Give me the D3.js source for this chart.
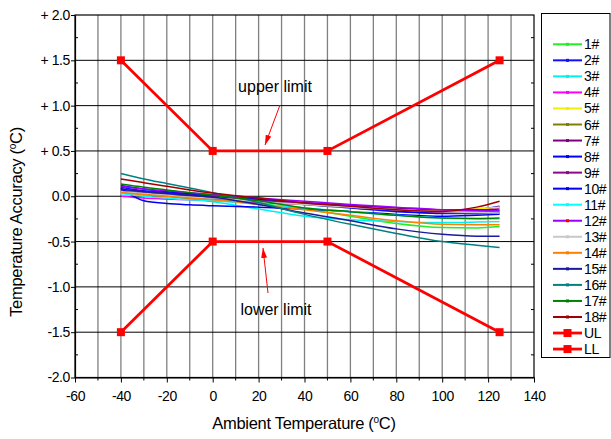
<!DOCTYPE html>
<html><head><meta charset="utf-8">
<script src="https://cdn.jsdelivr.net/npm/d3@7"></script>
<style>
body{margin:0;background:#fff;}
svg{display:block;font-family:"Liberation Sans",Arial,sans-serif;}
</style></head>
<body><svg id="c" width="611" height="439"></svg>
<script>
// ---------- data ----------
const temps = [-40, -30, -20, -10, 0, 20, 40, 60, 80, 100, 115, 125];
const seriesNames = ["1#","2#","3#","4#","5#","6#","7#","8#","9#","10#","11#","12#","13#","14#","15#","16#","17#","18#"];
const seriesColors = ["#22ee22","#1010ff","#00f0f0","#ff00ff","#f0f000","#808000","#800080","#0000ff","#8b0a8b","#0000ee","#00ffff","#9b00ff","#c8c8c8","#ff8000","#1a1aa0","#008080","#008000","#a00000"];
const s1  = [0.06, 0.03, 0.01, -0.01, -0.03, -0.08, -0.14, -0.22, -0.30, -0.345, -0.35, -0.335];
const s2  = [0.10, 0.06, 0.04, 0.02, 0.00, -0.04, -0.09, -0.13, -0.17, -0.185, -0.15, -0.11];
const s3  = [0.07, 0.03, 0.00, -0.03, -0.06, -0.14, -0.22, -0.26, -0.28, -0.29, -0.285, -0.28];
const s4  = [0.00, -0.02, -0.03, -0.04, -0.05, -0.07, -0.09, -0.11, -0.13, -0.15, -0.14, -0.12];
const s5  = [0.04, 0.02, 0.00, -0.01, -0.02, -0.05, -0.08, -0.11, -0.14, -0.165, -0.14, -0.12];
const s6  = [0.05, 0.02, 0.00, -0.02, -0.03, -0.06, -0.09, -0.12, -0.15, -0.17, -0.17, -0.16];
const s7  = [0.08, 0.05, 0.03, 0.01, 0.00, -0.04, -0.07, -0.10, -0.13, -0.15, -0.15, -0.14];
const s8  = [0.12, 0.08, 0.05, 0.03, 0.01, -0.03, -0.08, -0.12, -0.16, -0.19, -0.19, -0.18];
const s9  = [0.06, 0.03, 0.01, -0.01, -0.02, -0.05, -0.08, -0.12, -0.15, -0.18, -0.19, -0.19];
const s10 = [0.09, -0.05, -0.08, -0.095, -0.105, -0.12, -0.14, -0.17, -0.20, -0.22, -0.21, -0.20];
const s11 = [0.03, 0.00, -0.02, -0.04, -0.05, -0.09, -0.13, -0.17, -0.21, -0.24, -0.25, -0.25];
const s12 = [0.11, 0.08, 0.06, 0.04, 0.02, -0.02, -0.055, -0.09, -0.12, -0.15, -0.16, -0.16];
const s13 = [0.05, 0.03, 0.01, -0.01, -0.02, -0.06, -0.09, -0.12, -0.15, -0.17, -0.18, -0.185];
const s14 = [0.04, 0.02, 0.00, -0.02, -0.04, -0.09, -0.15, -0.21, -0.27, -0.31, -0.315, -0.315];
const s15 = [0.08, 0.05, 0.03, 0.01, -0.01, -0.09, -0.185, -0.27, -0.36, -0.42, -0.44, -0.44];
const s16 = [0.25, 0.19, 0.14, 0.09, 0.04, -0.07, -0.20, -0.31, -0.41, -0.50, -0.54, -0.565];
const s17 = [0.135, 0.10, 0.07, 0.04, 0.01, -0.05, -0.13, -0.17, -0.21, -0.24, -0.245, -0.24];
const s18 = [0.19, 0.15, 0.11, 0.07, 0.035, -0.02, -0.075, -0.11, -0.15, -0.167, -0.12, -0.055];
const seriesValues = [s1,s2,s3,s4,s5,s6,s7,s8,s9,s10,s11,s12,s13,s14,s15,s16,s17,s18];

const limitTemps = [-40, 0, 50, 125];
const ulValues = [1.5, 0.5, 0.5, 1.5];
const llValues = [-1.5, -0.5, -0.5, -1.5];

const xTicks = [-60,-40,-20,0,20,40,60,80,100,120,140];
const xTickLabels = ["-60","-40","-20","0","20","40","60","80","100","120","140"];
const xMinor = [-50,-30,-10,10,30,50,70,90,110,130];
const yTicks = [-2,-1.5,-1,-0.5,0,0.5,1,1.5,2];
const yTickLabels = ["-2.0","-1.5","-1.0","-0.5","0.0","+ 0.5","+ 1.0","+ 1.5","+ 2.0"];
const yMinor = [-1.75,-1.25,-0.75,-0.25,0.25,0.75,1.25,1.75];

// ---------- drawing ----------
const svg = d3.select("#c");
const x = d3.scaleLinear().domain([-60,140]).range([75,534]);
const y = d3.scaleLinear().domain([-2,2]).range([377.5,15]);

// vertical grid
svg.append("g").selectAll("line").data(xTicks.concat(xMinor).filter(v=>v>-60&&v<140)).join("line")
  .attr("x1",d=>x(d)).attr("x2",d=>x(d)).attr("y1",y(2)).attr("y2",y(-2))
  .attr("stroke","#808080").attr("stroke-width",1.3);
// horizontal grid
svg.append("g").selectAll("line").data(yTicks.filter(v=>v>-2&&v<2)).join("line")
  .attr("x1",x(-60)).attr("x2",x(140)).attr("y1",d=>y(d)).attr("y2",d=>y(d))
  .attr("stroke","#000").attr("stroke-width",1);

// axes
const gx = svg.append("g").attr("transform",`translate(0,${y(-2)})`)
  .call(d3.axisBottom(x).tickValues(xTicks).tickSize(5).tickSizeOuter(0).tickPadding(8).tickFormat((d,i)=>xTickLabels[i]));
gx.append("g").selectAll("line").data(xMinor).join("line")
  .attr("x1",d=>x(d)).attr("x2",d=>x(d)).attr("y1",0).attr("y2",3).attr("stroke","#000");
const gy = svg.append("g").attr("transform",`translate(${x(-60)},0)`)
  .call(d3.axisLeft(y).tickValues(yTicks).tickSize(4).tickSizeOuter(0).tickPadding(3)
    .tickFormat((d,i)=>yTickLabels[i]));
gy.append("g").selectAll("line").data(yMinor).join("line")
  .attr("x1",0).attr("x2",3).attr("y1",d=>y(d)).attr("y2",d=>y(d)).attr("stroke","#000");
// right frame minor ticks
svg.append("g").selectAll("line").data(yMinor).join("line")
  .attr("x1",x(140)).attr("x2",x(140)-3).attr("y1",d=>y(d)).attr("y2",d=>y(d)).attr("stroke","#000");
[gx,gy].forEach(g=>{
  g.selectAll("text").attr("font-family","Liberation Sans, Arial").attr("font-size",14).attr("fill","#000").attr("letter-spacing","-0.4");
  g.selectAll(".domain").attr("stroke","#000").attr("stroke-width",1.2);
});
gy.selectAll(".tick text").attr("x",-5);
gx.selectAll(".tick text").attr("dy","0.75em");
// frame
svg.append("rect").attr("x",x(-60)).attr("y",y(2)).attr("width",x(140)-x(-60)).attr("height",y(-2)-y(2))
  .attr("fill","none").attr("stroke","#000").attr("stroke-width",1.2);

// series
const line = d3.line().x(d=>x(d[0])).y(d=>y(d[1])).curve(d3.curveMonotoneX);
const g = svg.append("g");
seriesValues.forEach((vals,i)=>{
  g.append("path").datum(temps.map((t,k)=>[t,vals[k]]))
    .attr("d",line).attr("fill","none").attr("stroke",seriesColors[i]).attr("stroke-width",1.5);
});

// limits
const lline = d3.line().x(d=>x(d[0])).y(d=>y(d[1]));
[ulValues,llValues].forEach(vals=>{
  const pts = limitTemps.map((t,k)=>[t,vals[k]]);
  svg.append("path").datum(pts).attr("d",lline).attr("fill","none").attr("stroke","#ff0000").attr("stroke-width",2.8);
  svg.append("g").selectAll("rect").data(pts).join("rect")
    .attr("x",d=>x(d[0])-4).attr("y",d=>y(d[1])-4).attr("width",8).attr("height",8).attr("fill","#ff0000");
});

// annotations
const defs = svg.append("defs");
defs.append("marker").attr("id","ah").attr("viewBox","0 0 10 6").attr("refX",10).attr("refY",3)
  .attr("markerWidth",10).attr("markerHeight",6).attr("markerUnits","userSpaceOnUse").attr("orient","auto")
  .append("path").attr("d","M0,0 L10,3 L0,6 Z").attr("fill","#ff0000");
svg.append("text").attr("x",275).attr("y",92).attr("text-anchor","middle").attr("font-size",16).text("upper limit");
svg.append("line").attr("x1",280).attr("y1",105).attr("x2",265).attr("y2",145)
  .attr("stroke","#ff0000").attr("stroke-width",1).attr("marker-end","url(#ah)");
svg.append("text").attr("x",276).attr("y",315).attr("text-anchor","middle").attr("font-size",16).text("lower limit");
svg.append("line").attr("x1",268).attr("y1",293).attr("x2",263).attr("y2",248)
  .attr("stroke","#ff0000").attr("stroke-width",1).attr("marker-end","url(#ah)");

// axis titles
const xt = svg.append("text").attr("x",304).attr("y",429).attr("text-anchor","middle").attr("font-size",16.5).attr("letter-spacing","-0.3");
xt.append("tspan").text("Ambient Temperature (");
xt.append("tspan").attr("font-size",10).attr("dy",-6).text("o");
xt.append("tspan").attr("dy",6).text("C)");
const yt = svg.append("text").attr("transform","translate(22,222) rotate(-90)").attr("text-anchor","middle").attr("font-size",16.5).attr("letter-spacing","-0.3");
yt.append("tspan").text("Temperature Accuracy (");
yt.append("tspan").attr("font-size",10).attr("dy",-6).text("o");
yt.append("tspan").attr("dy",6).text("C)");

// legend
svg.append("rect").attr("x",541.5).attr("y",13.5).attr("width",68.5).attr("height",344)
  .attr("fill","#fff").attr("stroke","#000").attr("stroke-width",1);
const legNames = seriesNames.concat(["UL","LL"]);
const lg = svg.append("g").selectAll("g").data(legNames).join("g")
  .attr("transform",(d,i)=>`translate(0,${44.3+i*16.04})`);
lg.each(function(d,i){
  const gg = d3.select(this);
  if(i<18){
    gg.append("line").attr("x1",553).attr("x2",582).attr("y1",0).attr("y2",0).attr("stroke",seriesColors[i]).attr("stroke-width",2);
    gg.append("rect").attr("x",566).attr("y",-1.5).attr("width",3).attr("height",3).attr("fill",i===11?"#ff0000":seriesColors[i]);
  } else {
    gg.append("line").attr("x1",553).attr("x2",582).attr("y1",0).attr("y2",0).attr("stroke","#ff0000").attr("stroke-width",2.8);
    gg.append("rect").attr("x",563.5).attr("y",-4).attr("width",8).attr("height",8).attr("fill","#ff0000");
  }
  gg.append("text").attr("x",584).attr("y",5).attr("font-size",14).attr("letter-spacing","-0.4").text(d);
});
</script></body></html>
